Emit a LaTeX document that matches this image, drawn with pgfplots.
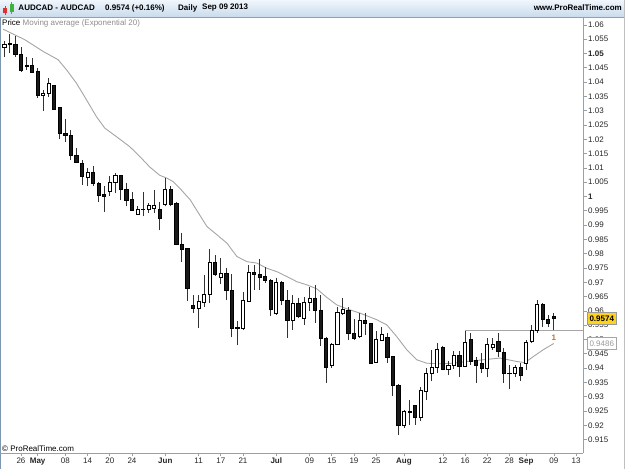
\documentclass[border=0pt]{standalone}
\usepackage{fontspec}
\setmainfont{Liberation Sans}
\usepackage{pgfplots}
\usepackage{pgfplotstable}
\pgfplotsset{compat=1.18}
\definecolor{axgray}{RGB}{150,160,170}
\definecolor{emagray}{RGB}{165,165,165}
\definecolor{wickc}{RGB}{50,50,50}
\definecolor{hdrtop}{RGB}{240,246,252}
\definecolor{hdrbot}{RGB}{200,218,236}
\definecolor{boxyellow}{RGB}{255,210,30}
\definecolor{oneorange}{RGB}{200,110,30}
\definecolor{bordblue}{RGB}{127,150,175}
\definecolor{iconred}{RGB}{220,50,50}
\definecolor{icongreen}{RGB}{60,180,60}

% Up (white) candles: index O H L C
\pgfplotstableread{
x O H L C
-3 1.0522 1.0542 1.0489 1.0531
4 1.0355 1.0373 1.0300 1.0361
5 1.0361 1.0415 1.0349 1.0396
12 1.0067 1.0100 1.0035 1.0084
16 1.0017 1.0070 1.0000 1.0049
17 1.0049 1.0081 1.0012 1.0072
21 0.9938 0.9965 0.9936 0.9956
22 0.9955 1.0017 0.9930 0.9956
23 0.9956 0.9977 0.9942 0.9967
24 0.9958 1.0023 0.9942 0.9967
26 0.9973 1.0064 0.9965 1.0023
32 0.9609 0.9656 0.9540 0.9633
33 0.9629 0.9726 0.9615 0.9659
34 0.9658 0.9817 0.9627 0.9769
36 0.9718 0.9784 0.9694 0.9732
39 0.9540 0.9566 0.9479 0.9543
40 0.9540 0.9667 0.9534 0.9638
41 0.9633 0.9761 0.9631 0.9735
46 0.9592 0.9714 0.9586 0.9699
49 0.9566 0.9656 0.9534 0.9627
51 0.9574 0.9650 0.9551 0.9629
52 0.9629 0.9683 0.9601 0.9644
56 0.9411 0.9487 0.9400 0.9484
57 0.9484 0.9613 0.9482 0.9594
58 0.9592 0.9644 0.9586 0.9606
61 0.9510 0.9592 0.9505 0.9565
64 0.9419 0.9528 0.9417 0.9499
65 0.9496 0.9543 0.9494 0.9519
69 0.9201 0.9254 0.9190 0.9248
70 0.9245 0.9289 0.9201 0.9247
72 0.9228 0.9335 0.9216 0.9321
73 0.9318 0.9400 0.9289 0.9382
74 0.9380 0.9464 0.9353 0.9403
75 0.9403 0.9487 0.9382 0.9464
77 0.9394 0.9423 0.9376 0.9408
78 0.9408 0.9458 0.9396 0.9446
80 0.9405 0.9531 0.9403 0.9491
84 0.9400 0.9505 0.9368 0.9481
85 0.9473 0.9505 0.9464 0.9481
89 0.9380 0.9411 0.9370 0.9403
91 0.9415 0.9499 0.9394 0.9491
92 0.9493 0.9551 0.9489 0.9531
93 0.9531 0.9638 0.9524 0.9621
}\upcandles

% Down (black) candles
\pgfplotstableread{
x O H L C
-2 1.0534 1.0569 1.0501 1.0530
-1 1.0530 1.0562 1.0489 1.0495
0 1.0495 1.0523 1.0436 1.0440
1 1.0460 1.0489 1.0443 1.0456
2 1.0460 1.0485 1.0432 1.0433
3 1.0437 1.0450 1.0345 1.0352
6 1.0387 1.0390 1.0303 1.0306
7 1.0311 1.0314 1.0200 1.0221
8 1.0221 1.0271 1.0192 1.0213
9 1.0215 1.0233 1.0128 1.0145
10 1.0145 1.0170 1.0117 1.0119
11 1.0114 1.0128 1.0041 1.0070
13 1.0084 1.0105 1.0035 1.0047
14 1.0047 1.0052 0.9982 1.0003
15 1.0006 1.0035 0.9947 1.0000
18 1.0072 1.0076 0.9988 1.0023
19 1.0023 1.0047 0.9965 0.9986
20 0.9988 1.0017 0.9950 0.9953
25 0.9956 0.9982 0.9881 0.9922
27 1.0023 1.0035 0.9965 0.9971
28 0.9974 0.9982 0.9829 0.9831
29 0.9833 0.9872 0.9771 0.9816
30 0.9817 0.9819 0.9633 0.9679
31 0.9620 0.9656 0.9592 0.9609
35 0.9769 0.9796 0.9722 0.9726
37 0.9732 0.9749 0.9638 0.9673
38 0.9673 0.9729 0.9508 0.9540
42 0.9735 0.9761 0.9673 0.9726
43 0.9728 0.9781 0.9673 0.9716
44 0.9720 0.9755 0.9697 0.9708
45 0.9708 0.9711 0.9583 0.9606
47 0.9700 0.9706 0.9621 0.9638
48 0.9638 0.9673 0.9505 0.9566
50 0.9627 0.9644 0.9574 0.9580
53 0.9644 0.9691 0.9557 0.9601
54 0.9601 0.9656 0.9478 0.9505
55 0.9505 0.9508 0.9349 0.9403
59 0.9603 0.9613 0.9499 0.9522
60 0.9522 0.9571 0.9499 0.9505
62 0.9565 0.9594 0.9516 0.9555
63 0.9555 0.9557 0.9415 0.9417
66 0.9508 0.9524 0.9417 0.9438
67 0.9440 0.9443 0.9303 0.9338
68 0.9341 0.9343 0.9166 0.9201
71 0.9268 0.9270 0.9201 0.9228
76 0.9473 0.9478 0.9392 0.9394
79 0.9446 0.9458 0.9370 0.9405
81 0.9499 0.9524 0.9411 0.9425
82 0.9426 0.9440 0.9349 0.9411
83 0.9415 0.9453 0.9382 0.9400
86 0.9493 0.9524 0.9439 0.9458
87 0.9454 0.9470 0.9349 0.9380
88 0.9383 0.9411 0.9326 0.9381
90 0.9403 0.9417 0.9356 0.9373
94 0.9621 0.9629 0.9543 0.9571
95 0.9571 0.9586 0.9543 0.9555
96 0.9582 0.9592 0.9534 0.9574
}\downcandles

\begin{document}
\begin{tikzpicture}[font=\fontsize{8}{9.6}\selectfont]
\useasboundingbox (-3pt,-16pt) rectangle (622pt,453pt);
% header bar
\shade[top color=hdrtop,bottom color=hdrbot] (-3pt,435.5pt) rectangle (622pt,453pt);
\draw[axgray,line width=0.8pt] (-3pt,435.5pt) -- (622pt,435.5pt);

\begin{axis}[
  at={(0pt,0pt)}, anchor=south west,
  scale only axis, width=580pt, height=435pt,
  xmin=-3.24, xmax=101.26, ymin=0.9103, ymax=1.0624,
  axis x line=bottom, axis y line=right,
  axis line style={axgray, line width=0.8pt, -},
  every outer x axis line/.append style={-},
  every outer y axis line/.append style={-},
  tick align=outside, major tick length=3.5pt,
  tick style={axgray, line width=0.6pt},
  xtick={0,3,8,12,16,20,26,32,36,40,46,52,56,60,64,69,76,80,84,88,91,96,100},
  xticklabels={26,\textbf{May},08,14,20,24,\textbf{Jun},11,17,21,\textbf{Jul},09,15,19,25,\textbf{Aug},12,16,22,28,\textbf{Sep},09,13},
  ytick={0.915,0.92,0.925,0.93,0.935,0.94,0.945,0.95,0.955,0.96,0.965,0.97,0.975,0.98,0.985,0.99,0.995,1,1.005,1.01,1.015,1.02,1.025,1.03,1.035,1.04,1.045,1.05,1.055,1.06},
  yticklabels={0.915,0.92,0.925,0.93,0.935,0.94,0.945,0.95,0.955,0.96,0.965,0.97,0.975,0.98,0.985,0.99,0.995,\textbf{1},1.005,1.01,1.015,1.02,1.025,1.03,1.035,1.04,1.045,\textbf{1.05},1.055,1.06},
  ticklabel style={font=\fontsize{8}{9.6}\selectfont, text=black!85},
  yticklabel style={anchor=west, inner sep=1.5pt},
  xticklabel style={inner sep=1.5pt},
]
% EMA 20
\addplot[emagray, line width=0.9pt] coordinates {
(-3.24,1.0585) (0.7,1.0548) (4,1.0507) (6.7,1.0478) (8.2,1.0443) (10,1.0396)
(11.8,1.0338) (13.6,1.0279) (15.1,1.0239) (17.2,1.0209) (19.6,1.0174)
(21.4,1.0140) (23.2,1.0103) (25,1.0074) (26.3,1.0064) (27.4,1.0052)
(28.6,1.0029) (30.5,0.9988) (32.3,0.9932) (33.5,0.9895) (35.3,0.9866)
(37.1,0.9837) (38.9,0.9790) (40.7,0.9772) (42.5,0.9767) (44.3,0.9749)
(46.1,0.9737) (47.9,0.9720) (49.7,0.9702) (51.5,0.9691) (53.3,0.9677)
(55.1,0.9647) (56.9,0.9621) (58.7,0.9607) (61.1,0.9592) (64.1,0.9569)
(65.9,0.9551) (67.7,0.9510) (69.5,0.9464) (71.3,0.9429) (73.1,0.9417)
(75.5,0.9415) (77.9,0.9417) (80.3,0.9423) (83.3,0.9429) (86.3,0.9435)
(89.3,0.9423) (90.8,0.9419) (92.3,0.9440) (94.1,0.9464) (96,0.9486)
};
% support line
\addplot[color=black!35, line width=1pt] coordinates {(80,0.9531) (101.26,0.9531)};
% up candles
\addplot[black, only marks, mark=*, mark size=0pt, scatter,
  visualization depends on={\thisrow{H}-\thisrow{O} \as \dH},
  visualization depends on={\thisrow{L}-\thisrow{O} \as \dL},
  visualization depends on={\thisrow{C}-\thisrow{O} \as \dC},
  scatter/@pre marker code/.code={%
    \draw[wickc, line width=0.9pt] (axis direction cs:0,\dL) -- (axis direction cs:0,\dH);
    \filldraw[fill=white, draw=black, line width=0.8pt] (-1.6pt,0pt) rectangle ([xshift=1.6pt]axis direction cs:0,\dC);
    \scope},
  scatter/@post marker code/.code={\endscope},
] table[x=x, y=O] {\upcandles};
% down candles
\addplot[black, only marks, mark=*, mark size=0pt, scatter,
  visualization depends on={\thisrow{H}-\thisrow{O} \as \dH},
  visualization depends on={\thisrow{L}-\thisrow{O} \as \dL},
  visualization depends on={\thisrow{C}-\thisrow{O} \as \dC},
  scatter/@pre marker code/.code={%
    \draw[wickc, line width=0.9pt] (axis direction cs:0,\dL) -- (axis direction cs:0,\dH);
    \filldraw[fill=black!90, draw=black, line width=0.8pt] (-1.6pt,0pt) rectangle ([xshift=1.6pt]axis direction cs:0,\dC);
    \scope},
  scatter/@post marker code/.code={\endscope},
] table[x=x, y=O] {\downcandles};
\node[text=oneorange, font=\bfseries\fontsize{8}{9.6}\selectfont] at (axis cs:96,0.9506) {1};
\end{axis}

% borders
\draw[bordblue, line width=1.2pt] (-2.4pt,-16pt) -- (-2.4pt,435.5pt);
\draw[axgray, line width=0.8pt] (-3pt,0pt) -- (0pt,0pt);
\draw[black!25, line width=0.8pt] (621.2pt,-16pt) -- (621.2pt,453pt);

% icon
\draw[iconred, line width=0.8pt] (2pt,438pt) -- (2pt,447pt);
\fill[iconred] (0pt,440pt) rectangle (4pt,445pt);
\draw[icongreen, line width=0.8pt] (8.5pt,439pt) -- (8.5pt,451pt);
\fill[icongreen] (6.5pt,441pt) rectangle (10.5pt,449pt);

% header texts
\node[anchor=west, inner sep=0pt, font=\bfseries\fontsize{8}{9.6}\selectfont] at (15.3pt,445pt) {AUDCAD - AUDCAD};
\node[anchor=west, inner sep=0pt, font=\bfseries\fontsize{8}{9.6}\selectfont] at (102pt,445pt) {0.9574 (+0.16\%)};
\node[anchor=west, inner sep=0pt, font=\bfseries\fontsize{8}{9.6}\selectfont] at (175pt,445pt) {Daily};
\node[anchor=west, inner sep=0pt, font=\bfseries\fontsize{8}{9.6}\selectfont] at (199pt,445pt) {Sep 09 2013};
\node[anchor=east, inner sep=0pt, font=\bfseries\fontsize{8}{9.6}\selectfont] at (619pt,445.5pt) {www.ProRealTime.com};

% legend text
\node[anchor=west, inner sep=0pt] at (-1pt,430pt) {Price \textcolor{black!45}{Moving average (Exponential 20)}};
\node[anchor=west, inner sep=0pt] at (-1pt,4pt) {© ProRealTime.com};

% price boxes
\node[anchor=west, fill=boxyellow, draw=black!40, line width=0.5pt, inner sep=0pt, minimum width=29pt, minimum height=12pt, font=\bfseries\fontsize{8}{9.6}\selectfont] at (584pt,134.5pt) {0.9574};
\node[anchor=west, fill=white, draw=black!35, line width=0.5pt, inner sep=0pt, minimum width=29pt, minimum height=12pt, text=black!40] at (584pt,109.5pt) {0.9486};
\end{tikzpicture}
\end{document}
